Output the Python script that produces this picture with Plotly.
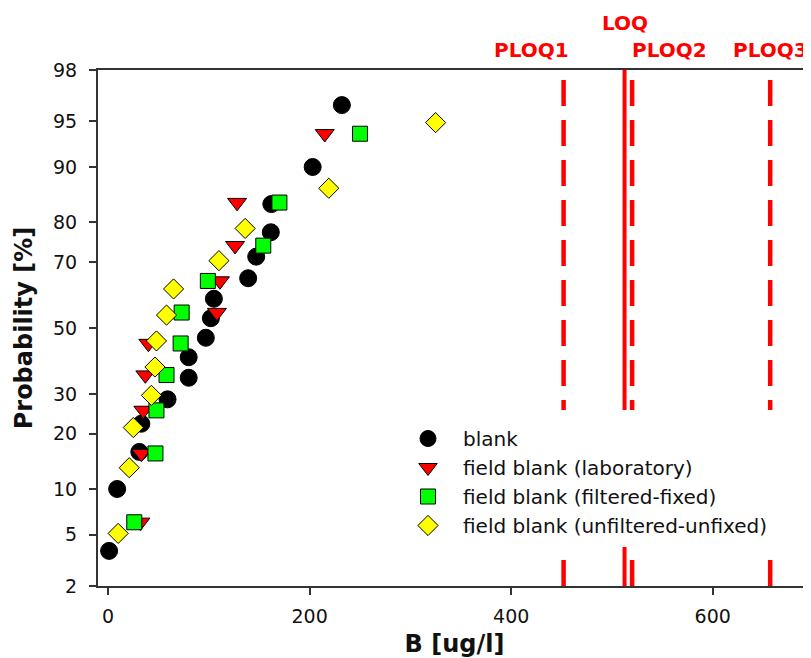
import plotly.graph_objects as go
from statistics import NormalDist

_nd = NormalDist()


def probit(p):
    return _nd.inv_cdf(p / 100.0)


# ---- data ----
blank_x = [1, 9, 31, 33, 59, 80, 80, 97, 102, 105, 139, 147, 161.5, 162, 203, 232]
blank_p = [3.8, 10.0, 16.2, 22.3, 28.5, 34.6, 40.8, 46.9, 53.1, 59.2, 65.4, 71.5, 77.7, 83.8, 90.0, 96.2]

lab_x = [32, 33, 35, 37, 40, 108, 111, 126, 128, 215]
lab_p = [6.1, 15.9, 25.6, 35.4, 45.1, 54.9, 64.6, 74.4, 84.1, 93.9]

filt_x = [26, 47, 48, 58, 72, 73, 99, 154, 170, 250]
filt_p = [6.1, 15.9, 25.6, 35.4, 45.1, 54.9, 64.6, 74.4, 84.1, 93.9]

unf_x = [10, 21, 25, 43, 46.5, 48, 58, 65, 110, 136, 219, 325]
unf_p = [5.1, 13.3, 21.4, 29.6, 37.8, 45.9, 54.1, 62.2, 70.4, 78.6, 86.7, 94.9]

limit_names = ["PLOQ1", "LOQ", "PLOQ2", "PLOQ3"]
limit_values = [452, 512.5, 520, 657]

y_ticks = [2, 5, 10, 20, 30, 50, 70, 80, 90, 95, 98]
x_ticks = [0, 200, 400, 600]

FONT = "DejaVu Sans"

fig = go.Figure()

series = [
    ("blank", blank_x, blank_p, "circle", "#000000", 17),
    ("field blank (laboratory)", lab_x, lab_p, "triangle-down", "#FF0000", 16.5),
    ("field blank (filtered-fixed)", filt_x, filt_p, "square", "#00FF00", 15),
    ("field blank (unfiltered-unfixed)", unf_x, unf_p, "diamond", "#FFFF00", 15.5),
]
for name, xs, ps, sym, col, sz in series:
    fig.add_trace(go.Scatter(
        x=xs, y=[probit(p) for p in ps], mode="markers", name=name,
        marker=dict(symbol=sym, color=col, size=sz,
                    line=dict(color="#000000", width=1)),
    ))

shapes = []
for nm, v in zip(limit_names, limit_values):
    shapes.append(dict(
        type="line", xref="x", yref="paper", x0=v, x1=v, y0=0, y1=1,
        line=dict(color="#FF0000", width=4.5 if nm != "LOQ" else 4,
                  dash="solid" if nm == "LOQ" else "26px,14px"),
        layer="above",
    ))
# white backing box behind the legend (covers the limit lines there)
shapes.append(dict(type="rect", xref="paper", yref="paper",
                   x0=0.44, x1=1.0, y0=0.0756, y1=0.341,
                   fillcolor="white", line=dict(width=0), layer="above"))

red_font = dict(family=FONT, size=20, color="#FF0000", weight="bold")
annotations = [
    dict(text="LOQ", x=limit_values[1], xref="x", y=1.091, yref="paper",
         xanchor="center", yanchor="middle", showarrow=False, font=red_font),
    dict(text="PLOQ1", x=limit_values[0] + 7, xref="x", y=1.039, yref="paper",
         xanchor="right", yanchor="middle", showarrow=False, font=red_font),
    dict(text="PLOQ2", x=limit_values[2] - 2, xref="x", y=1.039, yref="paper",
         xanchor="left", yanchor="middle", showarrow=False, font=red_font),
    dict(text="PLOQ3", x=limit_values[3], xref="x", y=1.039, yref="paper",
         xanchor="center", yanchor="middle", showarrow=False, font=red_font),
]

axis_col = "#333333"
fig.update_layout(
    width=803, height=650, autosize=False,
    margin=dict(l=90, r=0, t=62, b=72, pad=0),
    paper_bgcolor="white", plot_bgcolor="white",
    font=dict(family=FONT, size=19, color="#111111"),
    shapes=shapes, annotations=annotations,
    showlegend=True,
    legend=dict(x=295 / 713, y=167 / 516, xanchor="left", yanchor="top",
                bgcolor="white", borderwidth=0, itemwidth=60,
                font=dict(family=FONT, size=20, color="#111111")),
    xaxis=dict(range=[-10, 697.5], tickvals=x_ticks, ticktext=[str(v) for v in x_ticks],
               showgrid=False, zeroline=False, showline=True, linecolor=axis_col,
               linewidth=2, mirror=True, ticks="outside", ticklen=7, tickwidth=1.5,
               tickcolor=axis_col, tickfont=dict(size=19), ticklabelstandoff=5,
               title=dict(text="B [ug/l]", standoff=13,
                          font=dict(family=FONT, size=24, weight="bold", color="#111111"))),
    yaxis=dict(range=[probit(2), probit(98)], tickvals=[probit(v) for v in y_ticks],
               ticktext=[str(v) for v in y_ticks],
               showgrid=False, zeroline=False, showline=True, linecolor=axis_col,
               linewidth=2, mirror=False, ticks="outside", ticklen=7, tickwidth=1.5,
               tickcolor=axis_col, tickfont=dict(size=19), ticklabelstandoff=8,
               title=dict(text="Probability [%]", standoff=14,
                          font=dict(family=FONT, size=24, weight="bold", color="#111111"))),
)

fig.write_html("out.html")
